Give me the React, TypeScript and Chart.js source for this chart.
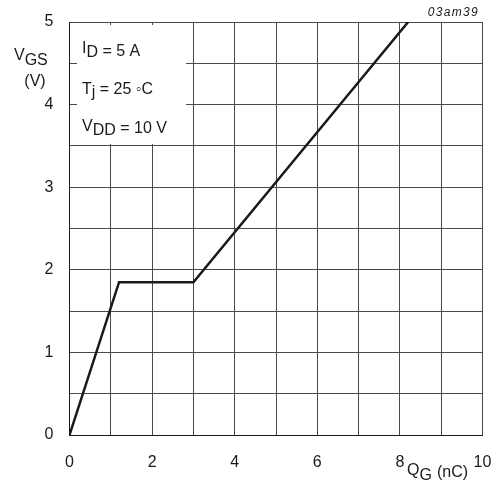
import React, { useEffect, useRef } from "react";
import { Chart, registerables } from "chart.js";

Chart.register(...registerables);

// Gate charge curve: Q_G (nC) vs V_GS (V)
const qgValues = [0, 1.2, 3.0, 8.2];
const vgsValues = [0, 1.85, 1.85, 5.0];

const xMin = 0;
const xMax = 10;
const xStep = 1;
const yMin = 0;
const yMax = 5;
const yStep = 0.5;

const legendLines = [
  { main: "I", sub: "D", rest: " = 5 A" },
  { main: "T", sub: "j", rest: " = 25 \u25E6C" },
  { main: "V", sub: "DD", rest: " = 10 V" },
];
const figureCode = "03am39";

const FONT = "'Liberation Sans', Arial, Helvetica, sans-serif";

function drawSub(
  ctx: CanvasRenderingContext2D,
  x: number,
  y: number,
  main: string,
  sub: string,
  rest: string,
  size: number,
  mainDy: number,
  subDy: number
) {
  ctx.font = `${size}px ${FONT}`;
  ctx.fillText(main, x, y + mainDy);
  let cx = x + ctx.measureText(main).width;
  ctx.fillText(sub, cx, y + subDy);
  cx += ctx.measureText(sub).width;
  ctx.fillText(rest, cx, y);
  return cx + ctx.measureText(rest).width;
}

const annotationsPlugin = {
  id: "annotations",
  beforeDatasetsDraw(chart: any) {
    const ctx: CanvasRenderingContext2D = chart.ctx;
    const { left, top } = chart.chartArea;
    ctx.save();
    // white legend box covering the grid
    ctx.fillStyle = "#ffffff";
    ctx.fillRect(left + 7.5, top + 3, 109, 119);
    ctx.fillStyle = "#1a1a1a";
    ctx.textBaseline = "alphabetic";
    ctx.textAlign = "left";
    const baselines = [56, 94, 133];
    const mainDys = [-3, 0, -2];
    const subDys = [1, 3, 2];
    legendLines.forEach((l, i) => {
      drawSub(ctx, 82, baselines[i], l.main, l.sub, l.rest, 16, mainDys[i], subDys[i]);
    });
    ctx.restore();
  },
  afterDraw(chart: any) {
    const ctx: CanvasRenderingContext2D = chart.ctx;
    ctx.save();
    ctx.fillStyle = "#1a1a1a";
    ctx.textBaseline = "alphabetic";
    ctx.textAlign = "left";
    // Y axis title
    drawSub(ctx, 14, 60, "V", "GS", "", 16, 0, 5);
    ctx.textAlign = "center";
    ctx.font = `16px ${FONT}`;
    ctx.fillText("(V)", 35, 86);
    // X axis title
    ctx.textAlign = "left";
    drawSub(ctx, 407, 475, "Q", "G", "", 16, 0, 5);
    ctx.font = `16px ${FONT}`;
    ctx.fillText("(nC)", 437, 477);
    // figure code
    ctx.font = `italic 12px ${FONT}`;
    ctx.textAlign = "right";
    (ctx as any).letterSpacing = "1.3px";
    ctx.fillText(figureCode, 479, 16);
    ctx.restore();
  },
};

export default function App() {
  const ref = useRef<HTMLCanvasElement | null>(null);
  useEffect(() => {
    if (!ref.current) return;
    const points = qgValues.map((x, i) => ({ x, y: vgsValues[i] }));
    const chart = new Chart(ref.current, {
      type: "scatter",
      data: {
        datasets: [
          {
            data: points,
            showLine: true,
            borderColor: "#1a1a1a",
            borderWidth: 2.5,
            pointRadius: 0,
            tension: 0,
            fill: false,
          },
        ],
      },
      options: {
        animation: false,
        responsive: false,
        devicePixelRatio: 1,
        layout: { padding: { top: 22, right: 14.5, left: 0, bottom: 0 } },
        plugins: { legend: { display: false }, tooltip: { enabled: false } },
        scales: {
          x: {
            type: "linear",
            min: xMin,
            max: xMax,
            afterFit: (s: any) => {
              s.height = 54;
              s.paddingLeft = 0;
              s.paddingRight = 0;
            },
            ticks: {
              stepSize: xStep,
              autoSkip: false,
              maxRotation: 0,
              padding: 18,
              color: "#1a1a1a",
              font: { family: FONT, size: 16 },
              callback: (v: any) => (Number(v) % 2 === 0 ? String(v) : ""),
            },
            grid: { color: "#4a4a4a", lineWidth: 1, drawTicks: false },
            border: { color: "#1a1a1a", width: 1 },
          },
          y: {
            type: "linear",
            min: yMin,
            max: yMax,
            afterFit: (s: any) => {
              s.width = 69.5;
              s.paddingTop = 0;
              s.paddingBottom = 0;
            },
            ticks: {
              stepSize: yStep,
              autoSkip: false,
              padding: 16,
              color: "#1a1a1a",
              font: { family: FONT, size: 16 },
              callback: (v: any) => (Number.isInteger(Number(v)) ? String(v) : ""),
            },
            grid: { color: "#4a4a4a", lineWidth: 1, drawTicks: false },
            border: { color: "#1a1a1a", width: 1 },
          },
        },
      },
      plugins: [annotationsPlugin],
    });
    return () => chart.destroy();
  }, []);
  return (
    <div style={{ position: "absolute", left: 0, top: 0, width: 497, height: 489, background: "#fff" }}>
      <canvas ref={ref} width={497} height={489} style={{ display: "block", width: 497, height: 489 }} />
    </div>
  );
}
